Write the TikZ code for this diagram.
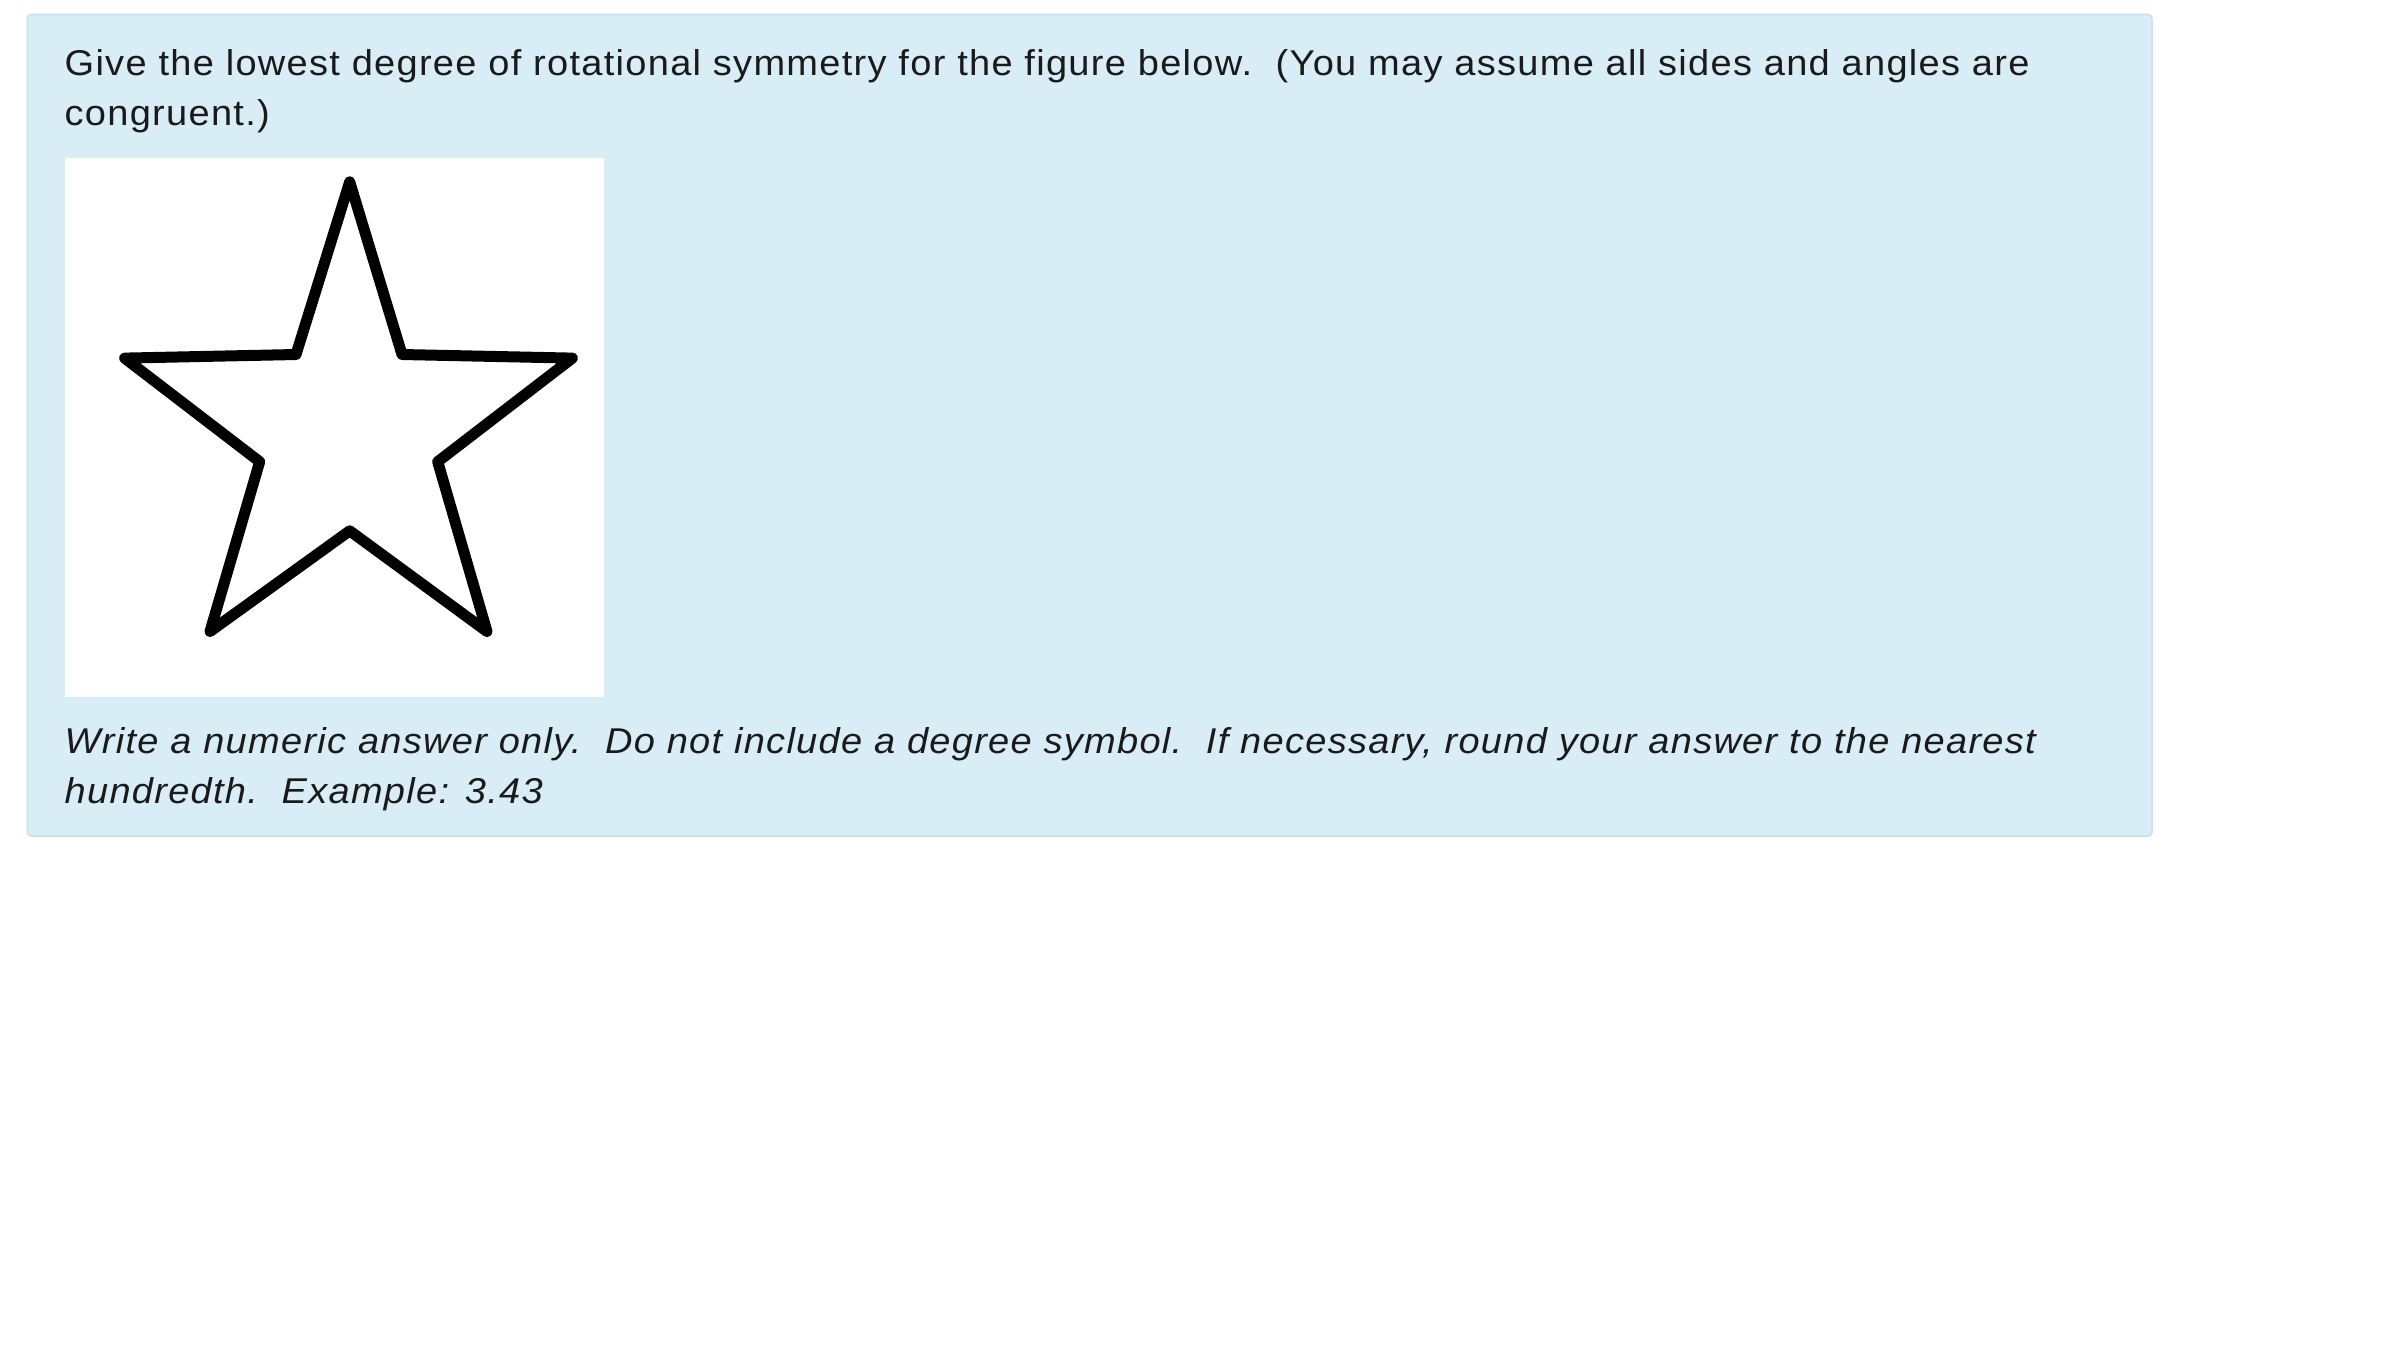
\documentclass[tikz,border=0pt]{standalone}
\usepackage{fontspec}
\setmainfont{Liberation Sans}[FakeStretch=1.06, LetterSpace=3.6]
\usetikzlibrary{positioning}
\definecolor{infobg}{HTML}{D9EDF7}
\definecolor{infoedge}{HTML}{C6E4F0}
\definecolor{qtext}{HTML}{1A1A1A}

\begin{document}
\begin{tikzpicture}[x=0.1mm, y=-0.1mm]
  \tikzstyle{panel} = [fill=infobg, draw=infoedge, line width=0.5pt, rounded corners=0.4mm]
  \tikzstyle{textline} = [anchor=base west, inner sep=0pt, text=qtext,
    font=\fontsize{10.2pt}{14pt}\selectfont]
  \tikzstyle{hintline} = [textline, font=\fontsize{10.2pt}{14pt}\selectfont\itshape]
  \tikzstyle{picbox} = [rectangle, fill=white, draw=none, anchor=north west,
    minimum width=53.9mm, minimum height=53.9mm, inner sep=0pt]
  \tikzstyle{starline} = [draw=black, line width=1.1mm, line join=round]

  % Page and panel
  \useasboundingbox [fill=white] (0,0) rectangle (2400,1349);
  \path [panel] (27.5,14.5) rectangle (2152,836);

  % Place nodes
  \node [textline] (ask1) at (64,75) {Give the lowest degree of rotational symmetry for the figure below.~~(You may assume all sides and angles are};
  \node [textline] (ask2) at (64,125.5) {congruent.)};
  \node [picbox] (figure) at (64,157) {};
  \node [hintline] (hint1) at (64,753) {Write a numeric answer only.~~Do not include a degree symbol.~~If necessary, round your answer to the nearest};
  \node [hintline] (hint2) at (64,803.5) {hundredth.~~Example: 3.43};

  % Draw star
  \draw [starline] (349.7,181.8) -- (402,354.5) -- (572.4,358.1) -- (437.7,461.7)
    -- (487,631.5) -- (349.7,530.8) -- (210,631.5) -- (259.7,461.7)
    -- (124.6,358.1) -- (296,354.5) -- cycle;

\end{tikzpicture}
\end{document}
